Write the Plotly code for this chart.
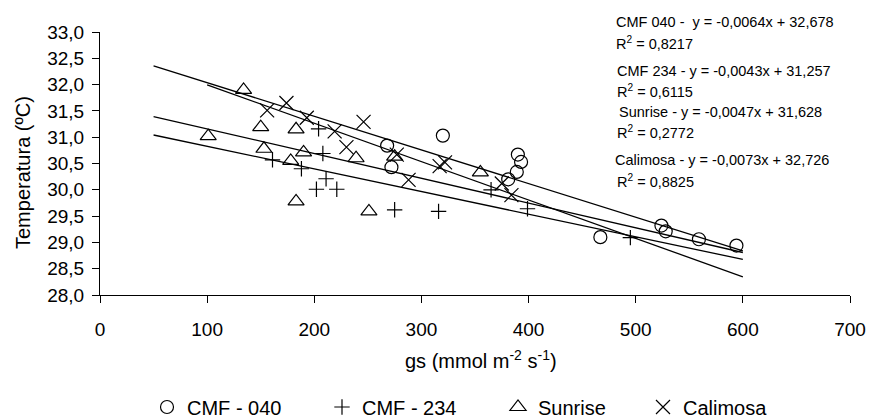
import plotly.graph_objects as go

# ---- data ----
cmf040_x = [268, 272, 320, 381, 389, 390, 393, 467, 524, 528, 559, 594]
cmf040_y = [30.84, 30.43, 31.03, 30.20, 30.34, 30.67, 30.53, 29.10, 29.32, 29.21, 29.06, 28.94]

cmf234_x = [161, 188, 202, 204, 208, 211, 221, 275, 316, 365, 399, 495]
cmf234_y = [30.57, 30.40, 30.01, 31.16, 30.69, 30.21, 30.01, 29.62, 29.59, 30.00, 29.64, 29.09]

sunrise_x = [101, 134, 150, 153, 178, 183, 183, 190, 239, 251, 275, 355]
sunrise_y = [31.02, 31.90, 31.19, 30.78, 30.55, 31.15, 29.78, 30.71, 30.60, 29.59, 30.63, 30.33]

calimosa_x = [156, 174, 193, 219, 230, 246, 277, 288, 317, 322, 375, 384]
calimosa_y = [31.51, 31.65, 31.37, 31.11, 30.81, 31.29, 30.67, 30.19, 30.45, 30.52, 30.12, 29.90]

series_names = ["CMF - 040", "CMF - 234", "Sunrise", "Calimosa"]
# trendline coefficients (slope, intercept) and x extent as printed in the chart
trend_slope = [-0.0064, -0.0043, -0.0047, -0.0073]
trend_intercept = [32.678, 31.257, 31.628, 32.726]
trend_xstart = [50, 50, 50, 100]
trend_xend = [600, 600, 600, 600]

eq_labels = [
    "CMF 040 -  y = -0,0064x + 32,678",
    "R<sup>2</sup> = 0,8217",
    "CMF 234 - y = -0,0043x + 31,257",
    "R<sup>2</sup> = 0,6115",
    "Sunrise - y = -0,0047x + 31,628",
    "R<sup>2</sup> = 0,2772",
    "Calimosa - y = -0,0073x + 32,726",
    "R<sup>2</sup> = 0,8825",
]

FONT = "Liberation Sans, Arial, sans-serif"
W, H = 869, 418
L, R, T, B = 100, 19, 32, 123
PW, PH = W - L - R, H - T - B

fig = go.Figure()

symbols = ["circle-open", "cross-thin-open", "triangle-up-open", "x-thin-open"]
sizes = [13, 11, 14, 14]
xs = [cmf040_x, cmf234_x, sunrise_x, calimosa_x]
ys = [cmf040_y, cmf234_y, sunrise_y, calimosa_y]
legends = ["legend", "legend2", "legend3", "legend4"]

# trendlines
for i in range(4):
    x0, x1 = trend_xstart[i], trend_xend[i]
    fig.add_trace(go.Scatter(
        x=[x0, x1],
        y=[trend_slope[i] * x0 + trend_intercept[i], trend_slope[i] * x1 + trend_intercept[i]],
        mode="lines", line=dict(color="black", width=1.3),
        showlegend=False, hoverinfo="skip"))

for i in range(4):
    fig.add_trace(go.Scatter(
        x=xs[i], y=ys[i], mode="markers", name=series_names[i],
        legend=legends[i],
        marker=dict(symbol=symbols[i], size=sizes[i], color="black",
                    line=dict(color="black", width=1.2)),
        cliponaxis=False))

axis_common = dict(
    showline=True, linecolor="black", linewidth=1, mirror=False,
    ticks="outside", ticklen=7, tickcolor="black", tickwidth=1,
    showgrid=False, zeroline=False, automargin=False,
    tickfont=dict(family=FONT, size=19, color="black"),
)

fig.update_xaxes(range=[0, 700], tick0=0, dtick=100, ticklabelstandoff=10, **axis_common)
fig.update_yaxes(range=[28, 33], tick0=28, dtick=0.5, tickformat=".1f", ticklabelstandoff=4, **axis_common)

def px_x(p):
    return (p - L) / PW

def px_y(p):
    return (H - B - p) / PH

annotations = []
eq_pos = [(614, 22), (614, 43), (615, 71), (615, 91), (617, 112), (615, 132), (613, 160), (615, 181)]
for txt, (ax, ay) in zip(eq_labels, eq_pos):
    annotations.append(dict(
        text=txt, xref="paper", yref="paper", x=px_x(ax), y=px_y(ay),
        xanchor="left", yanchor="middle", showarrow=False,
        font=dict(family=FONT, size=14.5, color="black")))

annotations.append(dict(
    text="gs (mmol m<sup>-2</sup> s<sup>-1</sup>)", xref="paper", yref="paper",
    x=px_x(481), y=px_y(359), xanchor="center", yanchor="middle", showarrow=False,
    font=dict(family=FONT, size=20, color="black")))
annotations.append(dict(
    text="Temperatura (ºC)", xref="paper", yref="paper",
    x=px_x(23), y=px_y(173), xanchor="center", yanchor="middle", showarrow=False,
    textangle=-90, font=dict(family=FONT, size=20, color="black")))

leg_common = dict(orientation="h", xref="paper", yref="paper",
                  yanchor="middle", xanchor="left", y=px_y(407),
                  bgcolor="rgba(0,0,0,0)", borderwidth=0,
                  font=dict(family=FONT, size=20, color="black"))
leg_px = [147, 322, 498, 643]

fig.update_layout(
    width=W, height=H, autosize=False,
    margin=dict(l=L, r=R, t=T, b=B, pad=0, autoexpand=False),
    paper_bgcolor="white", plot_bgcolor="white",
    separators=", ",
    font=dict(family=FONT, color="black"),
    annotations=annotations,
    legend=dict(x=px_x(leg_px[0]), **leg_common),
    legend2=dict(x=px_x(leg_px[1]), **leg_common),
    legend3=dict(x=px_x(leg_px[2]), **leg_common),
    legend4=dict(x=px_x(leg_px[3]), **leg_common),
)

fig.write_html(
    "out.html",
    config={"displayModeBar": False},
    post_script="document.body.style.margin='0px';document.body.style.padding='0px';",
)
